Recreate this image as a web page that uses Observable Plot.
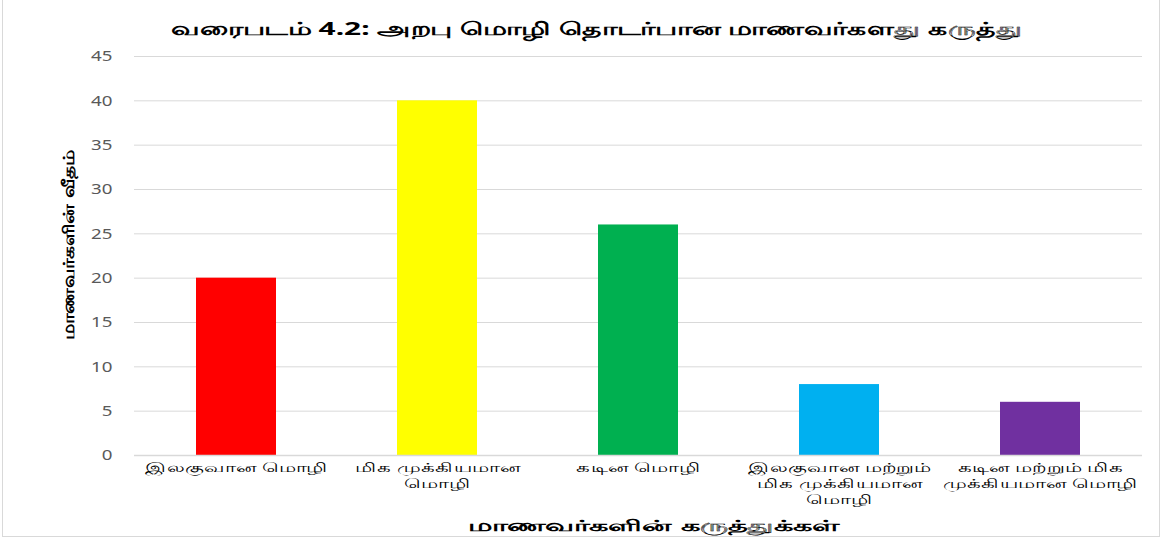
<!DOCTYPE html>
<html><head><meta charset="utf-8">
<script src="https://cdn.jsdelivr.net/npm/d3@7"></script>
<script src="https://cdn.jsdelivr.net/npm/@observablehq/plot@0.6"></script>
<style>
html,body{margin:0;padding:0;background:#fff;}
#wrap{position:relative;width:1164px;height:540px;overflow:hidden;font-family:"Noto Sans","DejaVu Sans",sans-serif;}
#frame{position:absolute;left:2px;top:-2px;width:1158px;height:539px;border:1px solid #d9d9d9;box-sizing:border-box;}
#title{position:absolute;left:597px;top:16px;transform:translateX(-50%) scaleX(1.66);font-weight:bold;font-size:18px;color:#000;white-space:nowrap;}
#ylab{position:absolute;left:68px;top:245px;transform:translate(-50%,-50%) rotate(-90deg) scaleX(1.27);font-weight:bold;font-size:16px;white-space:nowrap;}
#xlab{position:absolute;left:653px;top:514px;transform:translateX(-50%) scaleX(1.9);font-weight:bold;font-size:16px;white-space:nowrap;}
#chart{position:absolute;left:0;top:0;}
</style></head>
<body><div id="wrap"><div id="frame"></div><div id="chart"></div>
<div id="title"></div><div id="ylab"></div><div id="xlab"></div></div>
<script>
const titleText = "வரைபடம் 4.2: அறபு மொழி தொடர்பான மாணவர்களது கருத்து";
const yLabel = "மாணவர்களின் வீதம்";
const xLabel = "மாணவர்களின் கருத்துக்கள்";
const categories = [
  "இலகுவான மொழி",
  "மிக முக்கியமான\nமொழி",
  "கடின மொழி",
  "இலகுவான மற்றும்\nமிக முக்கியமான\nமொழி",
  "கடின மற்றும் மிக\nமுக்கியமான மொழி"
];
const values = [20, 40, 26, 8, 6];
const colors = ["#FF0000", "#FFFF00", "#00B050", "#00B0F0", "#7030A0"];
const yTicks = [0, 5, 10, 15, 20, 25, 30, 35, 40, 45];

document.getElementById("title").textContent = titleText;
document.getElementById("ylab").textContent = yLabel;
document.getElementById("xlab").textContent = xLabel;

const data = categories.map((c, i) => ({cat: c, value: values[i], color: colors[i]}));

const chart = Plot.plot({
  width: 1164,
  height: 540,
  marginTop: 56,
  marginBottom: 85,
  marginLeft: 134,
  marginRight: 22,
  style: {fontFamily: "'Noto Sans','DejaVu Sans',sans-serif", background: "transparent"},
  x: {domain: categories, paddingInner: 0.6, paddingOuter: 0.3, label: null},
  y: {domain: [0, 45], label: null},
  marks: [
    Plot.gridY(yTicks, {stroke: "#d9d9d9", strokeOpacity: 1}),
    Plot.barY(data, {x: "cat", y: "value", fill: "color"}),
    Plot.ruleY([0], {stroke: "#d9d9d9", strokeWidth: 1.5}),
    Plot.axisY(yTicks, {tickSize: 0, tickPadding: 22, fontSize: 15, fill: "#595959", label: null}),
    Plot.axisX({tickSize: 0, tickPadding: 5, fontSize: 13, fill: "#000", label: null, lineHeight: 1.23, className: "xax"})
  ]
});
document.getElementById("chart").appendChild(chart);
// widen the Tamil tick labels to match the reference's wide typeface
d3.select(chart).selectAll("g[aria-label='x-axis tick label'] text").each(function() {
  const t = this.getAttribute("transform") || "";
  this.setAttribute("transform", t + " scale(1.65,1)");
});
d3.select(chart).selectAll("g[aria-label='y-axis tick label'] text").each(function() {
  const t = this.getAttribute("transform") || "";
  this.setAttribute("transform", t + " scale(1.25,1)");
});
</script></body></html>
